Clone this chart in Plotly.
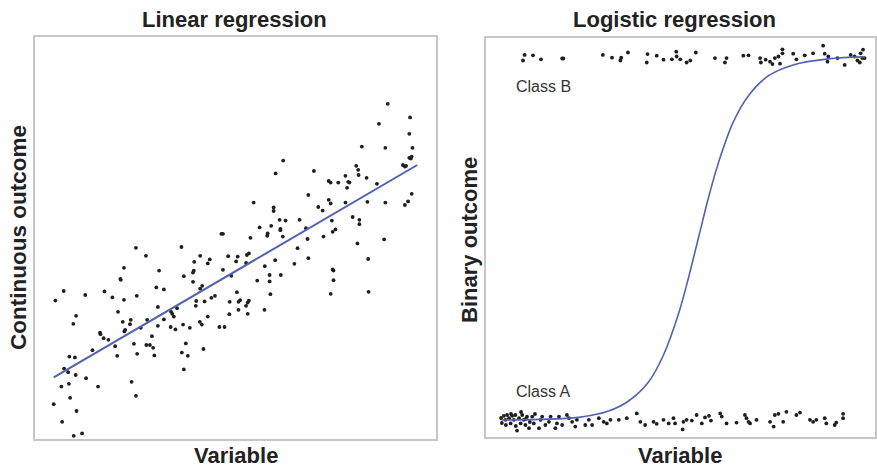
import plotly.graph_objects as go

# ---------------- Linear regression panel ----------------
lin_x = [46.7, 47.1, 25.3, 36.7, 27.8, 41.4, 43.8, 48.4, 50.8, 39.9, 43.3, 22.3, 47.1, 31.1, 39.8, 39.6,
         21.4, 21.5, 37.3, 49.2, 39.6, 7.2, 5.1, 12.6, 17.4, 19.4, 22.3, 25.5, 30.4, 32.3, 41.9, 41.4,
         50.6, 45.1, 44.2, 40.4, 42.5, 48.8, 51.0, 10.3, 9.6, 20.8, 30.8, 40.3, 34.1, 34.4, 35.6, 34.8,
         51.0, 48.7, 22.0, 24.0, 23.8, 28.1, 32.3, 41.3, 41.8, 43.3, 30.8, 34.0, 35.2, 37.1, 38.8, 46.2,
         47.5, 16.3, 16.4, 22.6, 22.4, 26.5, 17.2, 18.4, 29.3, 14.4, 20.1, 24.8, 27.9, 28.8, 29.6, 37.8,
         42.2, 20.6, 25.6, 29.9, 36.8, 38.3, 8.6, 10.0, 7.3, 8.3, 10.2, 12.8, 37.3, 6.6, 8.5, 15.8,
         24.2, 8.8, 25.3, 4.7, 10.4, 6.8, 9.7, 11.8,
         80.8, 83.5, 65.8, 68.5, 65.0, 60.2, 57.6, 50.4, 53.1, 53.6, 52.9, 58.8, 61.6, 55.7, 58.8, 74.6,
         74.8, 74.8, 59.0, 74.1, 83.6, 51.4, 53.6, 53.3, 52.9, 53.3, 57.5,
         88.4, 94.0, 86.2, 93.8, 81.9, 87.8, 94.6, 93.8, 94.4, 94.2, 62.2, 92.2, 92.7, 93.0, 60.3, 69.9,
         80.5, 81.0, 81.1, 77.8, 83.1, 73.6, 74.1, 76.0, 78.5, 78.8, 78.2, 85.7, 68.5, 94.4, 54.8, 59.8,
         59.8, 73.6, 74.1, 77.8, 83.3, 87.8, 93.5, 92.7, 71.0, 72.1, 61.3, 62.8, 66.3, 74.4, 79.6, 81.3,
         81.3, 56.3, 59.2, 61.5, 61.5, 67.9, 75.3, 74.6, 58.3, 58.2, 54.0, 62.1, 68.3, 72.3, 87.5]
lin_y = [51.3, 51.3, 47.8, 48.0, 45.8, 45.8, 44.9, 45.7, 45.6, 44.3, 43.9, 42.8, 42.3, 42.1, 42.1, 41.6,
         40.0, 39.8, 40.7, 40.8, 39.3, 37.0, 34.6, 36.0, 36.9, 35.4, 34.8, 35.8, 37.9, 37.4, 38.3, 37.6,
         36.7, 35.8, 35.3, 34.5, 34.4, 34.3, 34.3, 30.8, 28.8, 31.8, 33.0, 33.3, 31.8, 31.3, 32.7, 30.6,
         32.3, 31.2, 29.3, 29.8, 28.7, 29.8, 29.9, 29.3, 28.6, 30.6, 28.3, 28.0, 27.4, 28.6, 27.8, 28.0,
         28.0, 26.6, 26.2, 27.3, 26.9, 27.8, 25.2, 24.8, 25.7, 22.2, 23.2, 23.8, 23.5, 23.5, 22.8, 23.9,
         22.5, 20.8, 21.3, 20.9, 21.6, 20.8, 20.6, 20.4, 17.6, 16.7, 16.0, 15.2, 17.4, 13.1, 13.8, 13.1,
         14.3, 10.3, 10.8, 8.7, 7.0, 4.3, 0.8, 1.4,
         48.9, 45.0, 47.7, 45.2, 43.8, 44.7, 43.2, 44.4, 46.0, 46.4, 44.0, 41.0, 41.0, 39.6, 39.4, 42.4,
         42.1, 39.7, 36.2, 36.3, 36.8, 34.7, 34.6, 34.1, 33.3, 31.3, 32.3,
         83.8, 80.4, 78.8, 76.3, 73.1, 72.8, 72.8, 70.3, 70.6, 70.1, 69.6, 68.5, 68.1, 68.3, 66.4, 67.0,
         68.3, 67.3, 66.0, 65.8, 65.3, 64.5, 64.1, 64.1, 64.3, 64.1, 62.8, 63.8, 61.0, 61.3, 59.1, 57.9,
         57.0, 59.8, 58.9, 59.1, 59.3, 59.1, 59.4, 58.5, 58.0, 57.1, 54.8, 54.6, 54.8, 54.6, 55.5, 54.8,
         53.7, 52.9, 53.3, 52.5, 52.2, 52.7, 52.4, 51.8, 51.4, 50.8, 50.3, 50.6, 50.0, 50.6, 49.9]
fit_x = [4.7, 95.8]
fit_y = [15.4, 68.5]

# ---------------- Logistic regression panel ----------------
b_x = [9.7, 9.3, 11.8, 13.8, 19.1, 19.4, 29.3, 31.6, 33.7, 33.9, 35.6, 40.5, 40.3, 42.8, 44.5, 46.6,
       47.7, 47.8, 48.7, 50.3, 51.2, 52.6, 57.4, 59.9, 60.3, 64.5, 65.8, 68.7, 68.9, 70.1, 71.2, 71.8,
       72.4, 73.3, 73.7, 74.3, 74.3, 77.0, 77.8, 79.9, 82.0, 84.5, 84.9, 85.8, 85.6, 88.1, 89.9, 91.4,
       92.4, 93.9, 94.3, 93.7, 93.1, 94.9, 94.5]
b_y = [95.5, 94.1, 95.4, 94.4, 94.6, 94.6, 95.5, 94.8, 94.1, 94.8, 96.1, 95.7, 93.6, 95.3, 94.3, 94.4,
       96.3, 95.1, 94.4, 93.6, 94.1, 96.1, 94.7, 93.6, 94.7, 95.3, 95.4, 94.7, 93.6, 94.3, 93.8, 93.2,
       94.7, 95.1, 93.3, 96.9, 95.9, 95.8, 94.4, 95.4, 95.9, 97.8, 95.8, 95.1, 93.8, 94.7, 93.0, 95.5,
       95.1, 95.9, 94.7, 93.6, 94.1, 94.7, 96.8]
a_x = [4.5, 4.9, 5.3, 5.8, 6.2, 6.6, 7.0, 7.4, 7.8, 8.3, 8.7, 9.1, 9.5, 9.9, 10.3, 10.8, 11.6, 12.0,
       13.3, 13.7, 14.1, 14.9, 15.8, 16.2, 17.4, 17.8, 18.3, 19.1, 20.3, 20.8, 21.6, 22.4, 22.8, 24.9,
       25.8, 26.6, 28.3, 29.5, 30.3, 31.2, 33.3, 35.3, 37.8, 38.7, 39.9, 42.0, 42.8, 44.5, 45.8, 47.0,
       47.4, 49.3, 49.5, 50.3, 51.6, 52.8, 54.1, 54.9, 55.9, 56.4, 58.7, 59.1, 60.3, 62.8, 64.9, 65.3,
       65.8, 66.2, 67.8, 71.2, 72.1, 72.4, 73.3, 74.5, 75.3, 77.8, 78.7, 81.2, 82.0, 82.8, 84.9, 85.3,
       87.4, 87.8, 89.5, 89.5, 3.8, 4.0, 5.0, 6.3, 7.5, 8.8, 10.0, 11.0, 12.3]
a_y = [5.3, 4.3, 5.5, 4.7, 3.4, 5.3, 4.3, 5.5, 1.6, 4.7, 3.4, 5.5, 4.3, 3.0, 5.1, 2.2, 5.1, 3.4,
       2.2, 4.3, 5.1, 3.0, 3.8, 5.1, 2.2, 3.4, 5.1, 3.0, 5.5, 4.7, 3.8, 2.6, 4.3, 3.0,
       4.3, 3.0, 4.7, 3.8, 3.4, 4.3, 4.3, 4.7, 5.9, 3.8, 3.0, 3.8, 3.3, 4.3, 3.4, 4.7,
       3.4, 1.9, 3.8, 4.3, 4.1, 5.5, 3.4, 4.9, 5.3, 4.1, 5.9, 5.1, 3.4, 3.6, 5.5, 4.7,
       3.8, 3.4, 4.3, 3.8, 2.6, 5.5, 5.8, 3.8, 6.3, 5.5, 6.1, 4.3, 3.8, 4.3, 4.7, 3.4,
       3.0, 3.6, 5.8, 4.7, 4.75, 3.5, 3.0, 5.75, 2.75, 6.25, 4.5, 3.75, 5.75]
curve_x = [4.0, 13.25, 23.25, 30.75, 35.75, 40.75, 44.5, 48.25, 50.75, 53.25, 55.75, 58.25, 62.0,
           65.75, 70.75, 77.0, 85.75, 95.0]
curve_y = [4.25, 4.4, 4.9, 6.5, 9.0, 13.75, 20.5, 30.75, 39.75, 49.75, 59.75, 68.5, 78.75,
           85.25, 90.25, 93.0, 94.5, 95.0]

class_labels = ["Class B", "Class A"]
class_label_x = [7.0, 7.0]
class_label_y = [87.5, 11.25]

titles = ["Linear regression", "Logistic regression"]
x_title = "Variable"
y_titles = ["Continuous outcome", "Binary outcome"]

DOT = "#1e1e1e"
LINE = "#5361b3"
BORDER = "#c6c6c6"
FONT = "Liberation Sans, Arial, sans-serif"

fig = go.Figure()
fig.add_trace(go.Scatter(x=lin_x, y=lin_y, mode="markers",
                         marker=dict(size=3.8, color=DOT), xaxis="x", yaxis="y", hoverinfo="skip"))
fig.add_trace(go.Scatter(x=fit_x, y=fit_y, mode="lines",
                         line=dict(color=LINE, width=2), xaxis="x", yaxis="y"))
fig.add_trace(go.Scatter(x=b_x, y=b_y, mode="markers",
                         marker=dict(size=3.8, color=DOT), xaxis="x2", yaxis="y2"))
fig.add_trace(go.Scatter(x=a_x, y=a_y, mode="markers",
                         marker=dict(size=3.8, color=DOT), xaxis="x2", yaxis="y2"))
fig.add_trace(go.Scatter(x=curve_x, y=curve_y, mode="lines", line_shape="spline",
                         line=dict(color=LINE, width=1.6), xaxis="x2", yaxis="y2"))

ax_common = dict(showgrid=False, zeroline=False, showticklabels=False, ticks="",
                 showline=True, mirror=True, linecolor=BORDER, linewidth=2, fixedrange=True)

fig.update_layout(
    width=877, height=468,
    margin=dict(l=35, r=0, t=37, b=29),
    paper_bgcolor="white", plot_bgcolor="white",
    showlegend=False,
    font=dict(family=FONT, color="#222222"),
    xaxis=dict(domain=[0, 0.4774], range=[0, 100.5], **ax_common),
    yaxis=dict(domain=[0, 1], range=[0, 100.5], **ax_common),
    xaxis2=dict(domain=[0.5368, 1], range=[0, 97.5], anchor="y2", **ax_common),
    yaxis2=dict(domain=[0.005, 0.9963], range=[0, 99.6], anchor="x2", **ax_common),
)

TS = 22
ann = []
for txt, xc in zip(titles, [0.2375, 0.7613]):
    ann.append(dict(text="<b>%s</b>" % txt, x=xc, y=1.0423, xref="paper", yref="paper",
                    showarrow=False, font=dict(size=TS, family=FONT, color="#222222"),
                    xanchor="center", yanchor="middle"))
for xc in [0.2387, 0.7684]:
    ann.append(dict(text="<b>%s</b>" % x_title, x=xc, y=-0.041, xref="paper", yref="paper",
                    showarrow=False, font=dict(size=TS, family=FONT, color="#222222"),
                    xanchor="center", yanchor="middle"))
for txt, xc, yc, sz in zip(y_titles, [-0.0202, 0.5166], [0.5, 0.495], [22.5, 22]):
    ann.append(dict(text="<b>%s</b>" % txt, x=xc, y=yc, xref="paper", yref="paper",
                    showarrow=False, textangle=-90, font=dict(size=sz, family=FONT, color="#222222"),
                    xanchor="center", yanchor="middle"))
for txt, lx, ly in zip(class_labels, class_label_x, class_label_y):
    ann.append(dict(text=txt, x=lx, y=ly, xref="x2", yref="y2", showarrow=False,
                    font=dict(size=16, family=FONT, color="#333333"),
                    xanchor="left", yanchor="middle"))
fig.update_layout(annotations=ann)

fig.write_html("out.html", config={"displayModeBar": False},
               post_script="document.body.style.margin='0';document.body.style.padding='0';")
